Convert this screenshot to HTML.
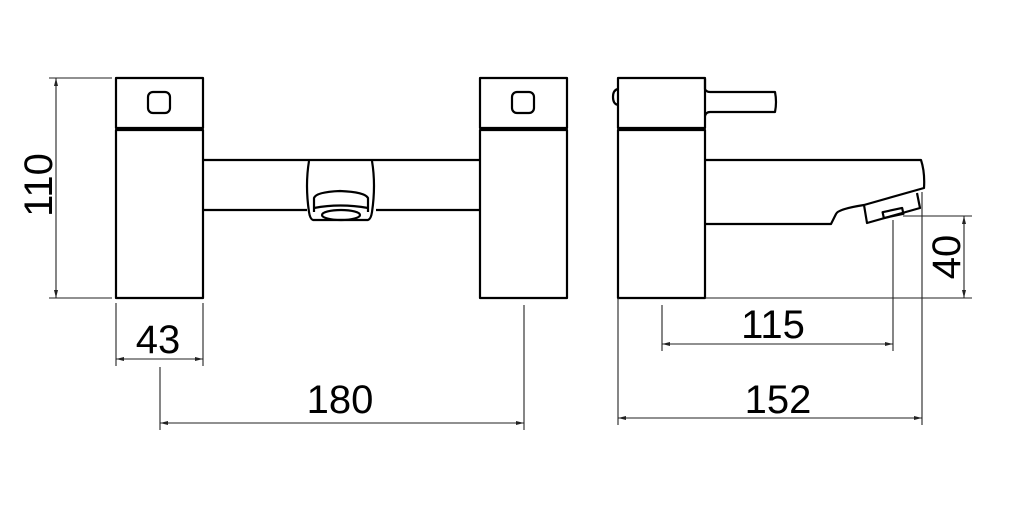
<!DOCTYPE html>
<html><head><style>html,body{margin:0;padding:0;background:#fff;}svg{display:block}</style></head>
<body>
<svg width="1024" height="505" viewBox="0 0 1024 505" xmlns="http://www.w3.org/2000/svg" font-family="Liberation Sans, Arial, sans-serif">
<g fill="none" stroke="#000" stroke-width="2.2" stroke-linejoin="round">
  <!-- left front view -->
  <rect x="116" y="78" width="87" height="50"/>
  <rect x="116" y="130" width="87" height="168"/>
  <rect x="148" y="92" width="22" height="21" rx="5"/>
  <rect x="480" y="78" width="87" height="50"/>
  <rect x="480" y="130" width="87" height="168"/>
  <rect x="512" y="92" width="22" height="21" rx="5"/>
  <line x1="203" y1="160" x2="480" y2="160"/>
  <line x1="203" y1="210" x2="307" y2="210"/>
  <line x1="376" y1="210" x2="480" y2="210"/>
  <path d="M309,161 Q305,185 309,212 Q310,219 313,220 L368,220 Q371,219 372,212 Q376,185 372,161"/>
  <path d="M314,212 L314,198 Q316,192 340,191 Q365,192 368,198 L368,212"/>
  <path d="M314,208 Q340,203 368,208"/>
  <ellipse cx="341" cy="215" rx="19" ry="5"/>
  <!-- side view -->
  <rect x="618" y="78" width="87" height="50"/>
  <rect x="618" y="130" width="87" height="168"/>
  <path d="M705,79 L705,89 Q706,92 710,92 L775,92 Q777,102 775,112 L710,112 Q706,112 705,116"/>
  <path d="M618,89 Q613,90 613,97 Q613,104 618,105"/>
  <path d="M705,160 L921,160 Q925,172 924,188 L864,205 Q838,209 836,214 L831,224 L705,224"/>
  <path d="M864,205 L867,223 L920,208 L917,193"/>
  <rect x="883" y="210" width="20" height="6" transform="rotate(-12 893 213)"/>
</g>
<g stroke="#222" stroke-width="1.1" fill="none">
  <!-- 110 -->
  <line x1="49" y1="78" x2="112" y2="78"/><line x1="49" y1="298" x2="112" y2="298"/>
  <line x1="56" y1="78" x2="56" y2="298"/>
  <!-- 43 -->
  <line x1="116" y1="303" x2="116" y2="366"/><line x1="203" y1="303" x2="203" y2="366"/>
  <line x1="116" y1="359" x2="203" y2="359"/>
  <!-- 180 -->
  <line x1="160" y1="367" x2="160" y2="430"/><line x1="524" y1="305" x2="524" y2="430"/>
  <line x1="160" y1="423" x2="524" y2="423"/>
  <!-- 40 -->
  <line x1="903" y1="216" x2="972" y2="216"/><line x1="705" y1="298" x2="972" y2="298"/>
  <line x1="964" y1="216" x2="964" y2="298"/>
  <!-- 115 -->
  <line x1="662" y1="305" x2="662" y2="351"/><line x1="893" y1="220" x2="893" y2="351"/>
  <line x1="662" y1="344" x2="893" y2="344"/>
  <!-- 152 -->
  <line x1="618" y1="298" x2="618" y2="425"/><line x1="922" y1="192" x2="922" y2="425"/>
  <line x1="618" y1="418" x2="922" y2="418"/>
</g>
<g fill="#222">
  <path d="M56,78 l-2,8 l4,0z"/><path d="M56,298 l-2,-8 l4,0z"/>
  <path d="M116,359 l8,-2 l0,4z"/><path d="M203,359 l-8,-2 l0,4z"/>
  <path d="M160,423 l8,-2 l0,4z"/><path d="M524,423 l-8,-2 l0,4z"/>
  <path d="M964,216 l-2,8 l4,0z"/><path d="M964,298 l-2,-8 l4,0z"/>
  <path d="M662,344 l8,-2 l0,4z"/><path d="M893,344 l-8,-2 l0,4z"/>
  <path d="M618,418 l8,-2 l0,4z"/><path d="M922,418 l-8,-2 l0,4z"/>
</g>
<g fill="#000" font-size="40" text-anchor="middle">
  <text x="158" y="353">43</text>
  <text x="340" y="413">180</text>
  <text x="773" y="338">115</text>
  <text x="778" y="413">152</text>
  <text transform="translate(52,185) rotate(-90)" x="0" y="0">110</text>
  <text transform="translate(960,257) rotate(-90)" x="0" y="0">40</text>
</g>
</svg>
</body></html>
